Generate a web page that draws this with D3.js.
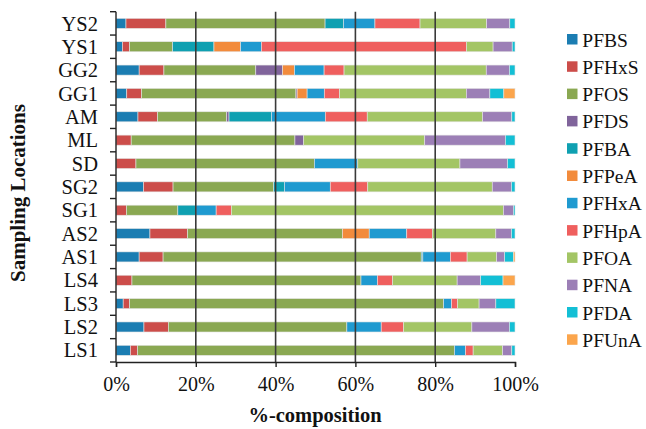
<!DOCTYPE html>
<html>
<head>
<meta charset="utf-8">
<script src="https://cdn.jsdelivr.net/npm/d3@7"></script>
<style>
  body { margin: 0; background: #fff; }
  text { font-family: "Liberation Serif", "Times New Roman", serif; fill: #111; }
</style>
</head>
<body>
<svg id="chart" width="646" height="429"></svg>
<script>
// sampling locations, top to bottom
var locations = ["YS2","YS1","GG2","GG1","AM","ML","SD","SG2","SG1","AS2","AS1","LS4","LS3","LS2","LS1"];
var compounds = ["PFBS","PFHxS","PFOS","PFDS","PFBA","PFPeA","PFHxA","PFHpA","PFOA","PFNA","PFDA","PFUnA"];
var colors = ["#1b7db2","#cc4d4a","#8aa852","#80649b","#0fa0b1","#f28b3c","#1f9ad0","#ef5f5e","#a3c565","#9c7fb6","#13bfd5","#fba54c"];

// % composition per compound, same order as locations
var PFBS  = [2.5, 1.6, 5.8, 2.7, 5.5, 0,   0,   6.9, 0,   8.5, 5.8, 0,   1.8, 7.0, 3.6];
var PFHxS = [10.0,1.8, 6.2, 3.7, 4.9, 3.8, 5.0, 7.4, 2.6, 9.4, 6.0, 4.0, 1.6, 6.1, 1.8];
var PFOS  = [39.9,10.8,23.0,38.7,17.3,41.0,44.7,25.2,12.9,38.8,64.7,57.4,78.7,44.7,79.5];
var PFDS  = [0,   0,   6.7, 0.3, 0.6, 2.2, 0,   0,   0,   0,   0,   0,   0,   0,   0];
var PFBA  = [4.6, 10.4,0,   0,   10.6,0,   0,   2.7, 4.5, 0,   0.4, 0,   0,   0,   0];
var PFPeA = [0,   6.7, 3.0, 2.5, 0,   0,   0,   0,   0,   6.7, 0,   0,   0,   0,   0];
var PFHxA = [7.9, 5.2, 7.4, 4.3, 13.5,0,   10.9,11.5,5.1, 9.4, 6.9, 4.1, 2.0, 8.6, 2.8];
var PFHpA = [11.3,51.5,5.0, 3.8, 10.5,0,   0,   9.4, 3.8, 6.4, 4.2, 3.8, 1.5, 5.6, 1.9];
var PFOA  = [16.7,6.7, 35.6,31.8,28.9,30.3,25.6,31.2,68.2,15.9,7.4, 16.2,5.4, 17.1,7.4];
var PFNA  = [5.8, 4.8, 5.8, 5.9, 7.3, 20.2,11.9,4.8, 2.5, 3.9, 2.0, 5.9, 4.2, 9.4, 2.3];
var PFDA  = [1.3, 0.7, 1.4, 3.5, 0.8, 2.4, 1.9, 0.9, 0.4, 0.9, 2.2, 5.6, 4.8, 1.4, 0.8];
var PFUnA = [0,   0,   0,   2.8, 0,   0,   0,   0,   0,   0,   0.4, 3.0, 0,   0,   0];
var xTicks = [0, 20, 40, 60, 80, 100];

var series = [PFBS,PFHxS,PFOS,PFDS,PFBA,PFPeA,PFHxA,PFHpA,PFOA,PFNA,PFDA,PFUnA];

var table = locations.map(function(loc, i){
    var row = {loc: loc}, total = 0;
    compounds.forEach(function(c, j){ total += series[j][i]; });
    compounds.forEach(function(c, j){ row[c] = series[j][i] / total * 100; });
    return row;
});

var svg = d3.select("#chart");
var TOP = 11.7, BOTTOM = 362, LEFT = 116, RIGHT = 515;

var x = d3.scaleLinear().domain([0, 100]).range([LEFT, RIGHT]);
var y = d3.scaleBand().domain(locations).range([TOP, BOTTOM]).paddingInner(0.57).paddingOuter(0.285);
var color = d3.scaleOrdinal().domain(compounds).range(colors);

var stack = d3.stack().keys(compounds)(table);

svg.append("g").selectAll("g")
    .data(stack)
    .enter().append("g")
    .attr("fill", function(d){ return color(d.key); })
    .selectAll("rect")
    .data(function(d){ return d; })
    .enter().append("rect")
    .attr("x", function(d){ return x(d[0]); })
    .attr("y", function(d){ return y(d.data.loc); })
    .attr("width", function(d){ return Math.max(0, x(d[1]) - x(d[0])); })
    .attr("height", y.bandwidth())
    .attr("stroke", "#e4e4e4")
    .attr("stroke-width", 0.6);

// vertical gridlines
svg.append("g").selectAll("line")
    .data(xTicks.slice(1, -1))
    .enter().append("line")
    .attr("x1", function(d){ return x(d); })
    .attr("x2", function(d){ return x(d); })
    .attr("y1", TOP)
    .attr("y2", BOTTOM)
    .attr("stroke", "#3a3a3a")
    .attr("stroke-width", 1.6);

// x axis
var xAxis = svg.append("g")
    .attr("transform", "translate(0," + BOTTOM + ")")
    .call(d3.axisBottom(x).tickValues(xTicks).tickSize(5).tickFormat(function(d){ return d + "%"; }));
xAxis.select(".domain").attr("stroke", "#222").attr("stroke-width", 1.4);
xAxis.selectAll(".tick line").attr("stroke", "#222").attr("stroke-width", 1.4);
xAxis.selectAll("text").attr("font-size", 20).attr("y", 29).attr("dy", 0)
    .style("font-family", "Liberation Serif, serif").attr("fill", "#111");

// y axis, ticks sit between categories
var yAxis = svg.append("g").attr("transform", "translate(" + LEFT + ",0)");
yAxis.append("line")
    .attr("x1", 0).attr("x2", 0)
    .attr("y1", TOP).attr("y2", BOTTOM)
    .attr("stroke", "#222").attr("stroke-width", 1.4);
var step = y.step();
yAxis.selectAll("line.tk")
    .data(d3.range(locations.length + 1))
    .enter().append("line")
    .attr("class", "tk")
    .attr("x1", -6).attr("x2", 0)
    .attr("y1", function(i){ return TOP + i * step; })
    .attr("y2", function(i){ return TOP + i * step; })
    .attr("stroke", "#222").attr("stroke-width", 1.4);
yAxis.selectAll("text")
    .data(locations)
    .enter().append("text")
    .attr("x", -18)
    .attr("y", function(d){ return y(d) + y.bandwidth() / 2; })
    .attr("dy", "0.35em")
    .attr("text-anchor", "end")
    .attr("font-size", 20.5)
    .text(function(d){ return d; });

// axis titles
svg.append("text")
    .attr("x", 315).attr("y", 422)
    .attr("text-anchor", "middle")
    .attr("font-size", 20.5).attr("font-weight", "bold")
    .text("%-composition");
svg.append("text")
    .attr("transform", "translate(25,193) rotate(-90)")
    .attr("text-anchor", "middle")
    .attr("font-size", 21).attr("font-weight", "bold")
    .text("Sampling Locations");

// legend
var legend = svg.append("g").selectAll("g")
    .data(compounds)
    .enter().append("g")
    .attr("transform", function(d, i){ return "translate(567," + (34 + i * 27.3) + ")"; });
legend.append("rect")
    .attr("width", 10.5).attr("height", 10.5)
    .attr("fill", function(d){ return color(d); });
legend.append("text")
    .attr("x", 15.3).attr("y", 12.5)
    .attr("font-size", 19.5)
    .text(function(d){ return d; });
</script>
</body>
</html>
